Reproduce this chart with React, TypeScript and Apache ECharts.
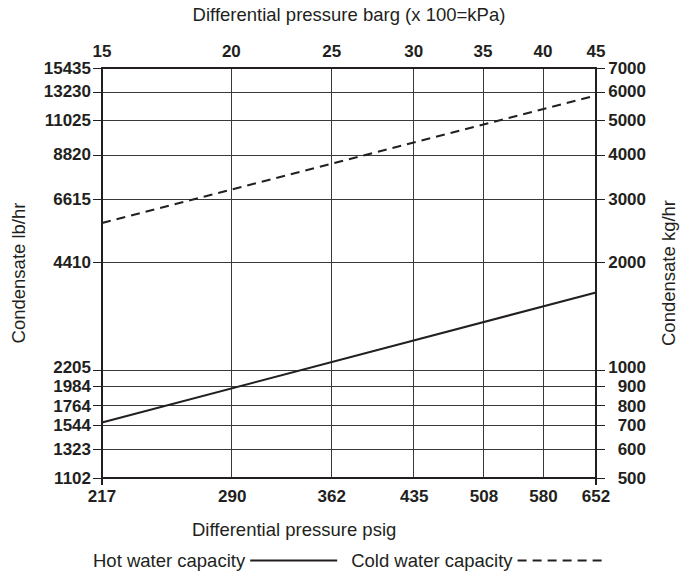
import React, { useEffect, useRef } from 'react';
import * as echarts from 'echarts';

// Axis ticks (log-log chart)
const psigTicks = [217, 290, 362, 435, 508, 580, 652];
const bargTicks = [15, 20, 25, 30, 35, 40, 45];
const kgTicks = [500, 600, 700, 800, 900, 1000, 2000, 3000, 4000, 5000, 6000, 7000];
const lbTickLabels = ['1102', '1323', '1544', '1764', '1984', '2205', '4410', '6615', '8820', '11025', '13230', '15435'];

// Series (differential pressure psig -> condensate kg/hr)
const pressurePsig = [217, 652];
const hotWaterKg = [715, 1650];
const coldWaterKg = [2580, 5870];

const FONT = '"Liberation Sans", Arial, sans-serif';
const INK = '#231f20';

function nearestIndex(ticks: number[], v: number): number {
  let best = 0;
  let bd = Infinity;
  for (let i = 0; i < ticks.length; i++) {
    const d = Math.abs(Math.log(ticks[i] / v));
    if (d < bd) {
      bd = d;
      best = i;
    }
  }
  return best;
}

// small vertical nudges for the tightly packed labels (as in the reference)
function styleKey(i: number): string {
  if (kgTicks[i] === 1000) return 'up';
  if (kgTicks[i] === 800) return 'dn';
  return 'n';
}

export default function App() {
  const ref = useRef<HTMLDivElement>(null);

  useEffect(() => {
    if (!ref.current) return;
    const chart = echarts.init(ref.current, null, { renderer: 'svg' });
    const tickFont = { fontFamily: FONT, fontSize: 17, fontWeight: 'bold' as const, color: INK };
    const rich = {
      n: { ...tickFont },
      up: { ...tickFont, padding: [0, 0, 6, 0] },
      dn: { ...tickFont, padding: [4, 0, 0, 0] },
    };
    const axisLine = { show: true, onZero: false, lineStyle: { color: INK, width: 2 } };
    const grid = { show: true, lineStyle: { color: '#3a3a3a', width: 1 } };
    const nameStyle = { fontFamily: FONT, fontSize: 18.5, color: INK };

    chart.setOption({
      animation: false,
      backgroundColor: '#ffffff',
      grid: { left: 102, right: 93, top: 68, bottom: 99, containLabel: false },
      legend: {
        left: 93,
        top: 551,
        padding: 0,
        align: 'right',
        itemWidth: 87,
        itemHeight: 14,
        itemGap: 13,
        itemStyle: { color: 'rgba(0,0,0,0)', borderWidth: 0, opacity: 0 },
        textStyle: { fontFamily: FONT, fontSize: 18.5, color: INK },
        data: ['Hot water capacity', 'Cold water capacity'],
      },
      graphic: [
        {
          type: 'text',
          left: 192,
          top: 520,
          style: { text: 'Differential pressure psig', fontFamily: FONT, fontSize: 18.5, fill: INK },
        },
      ],
      xAxis: [
        {
          type: 'log',
          position: 'bottom',
          min: psigTicks[0],
          max: psigTicks[psigTicks.length - 1],
          axisLine,
          axisTick: { show: true, customValues: [psigTicks[0], psigTicks[psigTicks.length - 1]], length: 7, lineStyle: { color: INK, width: 2 } },
          axisLabel: {
            ...tickFont,
            margin: 10,
            customValues: psigTicks,
            formatter: (v: number) => String(psigTicks[nearestIndex(psigTicks, v)]),
          },
          splitLine: { show: false },
          minorTick: { show: false },
        },
        {
          type: 'log',
          position: 'top',
          min: bargTicks[0],
          max: bargTicks[bargTicks.length - 1],
          axisLine,
          axisTick: { show: false, customValues: bargTicks },
          axisLabel: {
            ...tickFont,
            margin: 8,
            customValues: bargTicks,
            formatter: (v: number) => String(bargTicks[nearestIndex(bargTicks, v)]),
          },
          splitLine: grid,
          minorTick: { show: false },
          name: 'Differential pressure barg (x 100=kPa)',
          nameLocation: 'middle',
          nameGap: 44,
          nameTextStyle: nameStyle,
        },
      ],
      yAxis: [
        {
          type: 'log',
          position: 'left',
          min: kgTicks[0],
          max: kgTicks[kgTicks.length - 1],
          axisLine,
          axisTick: { show: true, customValues: kgTicks, length: 9, lineStyle: { color: INK, width: 1 } },
          axisLabel: {
            ...tickFont,
            margin: 11,
            customValues: kgTicks,
            rich,
            formatter: (v: number) => {
              const i = nearestIndex(kgTicks, v);
              return '{' + styleKey(i) + '|' + lbTickLabels[i] + '}';
            },
          },
          splitLine: grid,
          minorTick: { show: false },
          name: 'Condensate lb/hr',
          nameLocation: 'middle',
          nameGap: 74,
          nameTextStyle: nameStyle,
        },
        {
          type: 'log',
          position: 'right',
          min: kgTicks[0],
          max: kgTicks[kgTicks.length - 1],
          axisLine,
          axisTick: { show: true, customValues: kgTicks, length: 9, lineStyle: { color: INK, width: 1 } },
          axisLabel: {
            ...tickFont,
            margin: 50,
            align: 'right',
            customValues: kgTicks,
            rich,
            formatter: (v: number) => {
              const i = nearestIndex(kgTicks, v);
              return '{' + styleKey(i) + '|' + String(kgTicks[i]) + '}';
            },
          },
          splitLine: { show: false },
          minorTick: { show: false },
          name: 'Condensate kg/hr',
          nameLocation: 'middle',
          nameGap: 63,
          nameTextStyle: nameStyle,
        },
      ],
      series: [
        {
          type: 'line',
          name: 'Hot water capacity',
          xAxisIndex: 0,
          yAxisIndex: 0,
          symbol: 'none',
          data: pressurePsig.map((p, i) => [p, hotWaterKg[i]]),
          lineStyle: { color: INK, width: 2, type: 'solid' },
          itemStyle: { color: INK },
        },
        {
          type: 'line',
          name: 'Cold water capacity',
          xAxisIndex: 0,
          yAxisIndex: 0,
          symbol: 'none',
          data: pressurePsig.map((p, i) => [p, coldWaterKg[i]]),
          lineStyle: { color: INK, width: 2, type: [9, 6] },
          itemStyle: { color: INK },
        },
      ],
    });

    return () => chart.dispose();
  }, []);

  return (
    <div
      ref={ref}
      style={{ position: 'fixed', left: 0, top: 0, width: 689, height: 577, background: '#fff' }}
    />
  );
}
